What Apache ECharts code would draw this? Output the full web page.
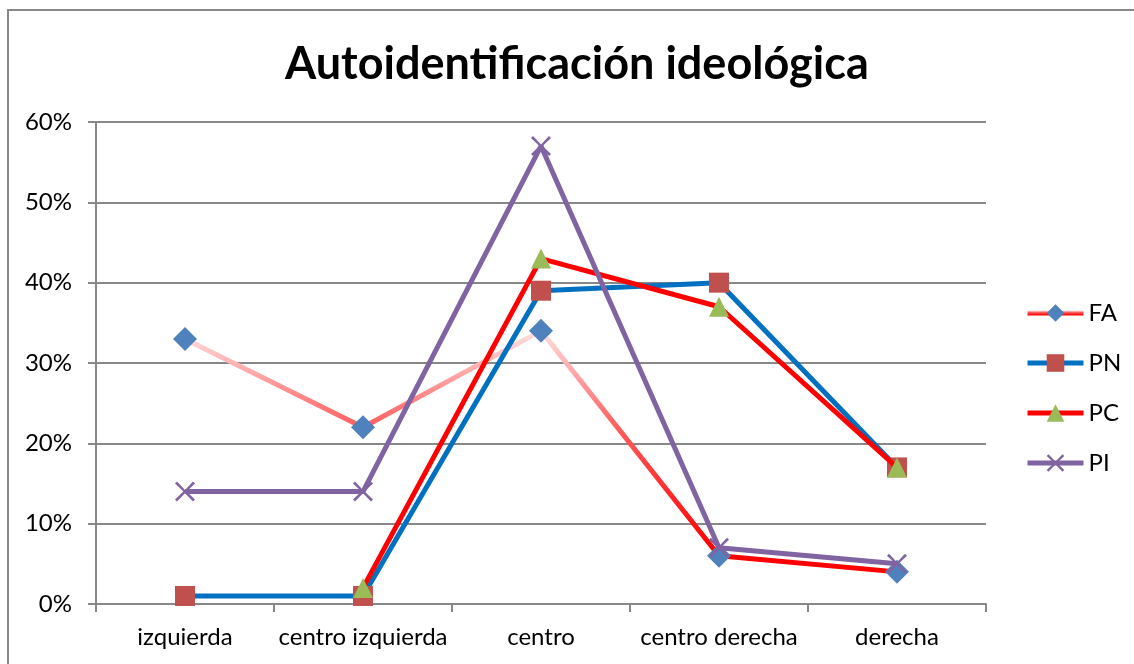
<!DOCTYPE html>
<html>
<head>
<meta charset="utf-8">
<script src="https://cdn.jsdelivr.net/npm/echarts@6/dist/echarts.min.js"></script>
<style>
  html, body { margin: 0; padding: 0; background: #fff; }
  #chart { width: 1134px; height: 664px; }
</style>
</head>
<body>
<div id="chart"></div>
<script>
var categories = ['izquierda', 'centro izquierda', 'centro', 'centro derecha', 'derecha'];
var faData = [33, 22, 34, 6, 4];
var pnData = [1, 1, 39, 40, 17];
var pcData = [null, 2, 43, 37, 17];
var piData = [14, 14, 57, 7, 5];
var yTicks = [0, 10, 20, 30, 40, 50, 60];

var font = 'Lato, "Open Sans", sans-serif';
var crossPath = 'path://M0,1L1,0L5,4.2L9,0L10,1L5.8,5L10,9L9,10L5,5.8L1,10L0,9L4.2,5Z';

var chart = echarts.init(document.getElementById('chart'));
chart.setOption({
  animation: false,
  title: {
    text: 'Autoidentificación ideológica',
    left: 280,
    top: 37,
    textStyle: { fontFamily: font, fontSize: 45, fontWeight: 'bold', color: '#000' }
  },
  graphic: [{
    type: 'rect',
    shape: { x: 8, y: 10, width: 1140, height: 670 },
    style: { fill: 'none', stroke: '#888', lineWidth: 2 }
  }],
  legend: {
    orient: 'vertical',
    left: 1020,
    top: 296,
    itemWidth: 56,
    itemHeight: 22,
    itemGap: 26,
    lineStyle: { width: 5 },
    textStyle: { fontFamily: font, fontSize: 24, color: '#000' },
    data: ['FA', 'PN', 'PC', 'PI']
  },
  grid: { left: 96, right: 148, top: 122, bottom: 60 },
  xAxis: {
    type: 'category',
    data: categories,
    boundaryGap: true,
    axisLine: { lineStyle: { color: '#888', width: 2 } },
    axisTick: { show: true, length: 8, lineStyle: { color: '#888', width: 2 } },
    axisLabel: { interval: 0, fontFamily: font, fontSize: 24, color: '#000', margin: 21 }
  },
  yAxis: {
    type: 'value',
    min: yTicks[0],
    max: yTicks[yTicks.length - 1],
    interval: 10,
    axisLine: { show: true, lineStyle: { color: '#888', width: 2 } },
    axisTick: { show: true, length: 8, lineStyle: { color: '#888', width: 2 } },
    axisLabel: { fontFamily: font, fontSize: 24, color: '#000', margin: 24, formatter: '{value}%' },
    splitLine: { lineStyle: { color: '#888', width: 2 } }
  },
  series: [{
    name: 'FA',
    type: 'line',
    data: faData,
    symbol: 'diamond',
    symbolSize: 24,
    z: 3,
    itemStyle: { color: '#4f81bd' },
    lineStyle: {
      width: 5,
      color: new echarts.graphic.LinearGradient(0, 0, 0, 1, [
        { offset: 0, color: '#ffe4e4' },
        { offset: 0.4, color: '#ff5e5e' },
        { offset: 0.9, color: '#ff0000' },
        { offset: 1, color: '#ff0000' }
      ])
    }
  }, {
    name: 'PN',
    type: 'line',
    data: pnData,
    symbol: 'rect',
    symbolSize: 20,
    z: 4,
    itemStyle: { color: '#c0504d' },
    lineStyle: { width: 5, color: '#0070c0' }
  }, {
    name: 'PC',
    type: 'line',
    data: pcData,
    symbol: 'triangle',
    symbolSize: 20,
    z: 5,
    itemStyle: { color: '#9bbb59' },
    lineStyle: { width: 5, color: '#ff0000' }
  }, {
    name: 'PI',
    type: 'line',
    data: piData,
    symbol: crossPath,
    symbolSize: 20,
    z: 6,
    itemStyle: { color: '#8064a2' },
    lineStyle: { width: 5, color: '#8064a2' }
  }]
});
</script>
</body>
</html>
